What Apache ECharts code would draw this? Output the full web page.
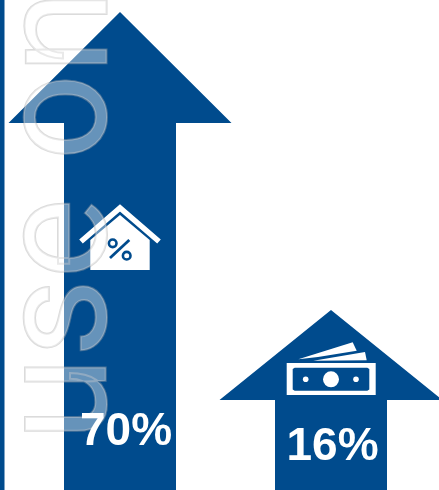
<!DOCTYPE html>
<html>
<head>
<meta charset="utf-8">
<style>html,body{margin:0;padding:0;background:#fff}#chart{width:439px;height:490px}</style>
<script src="https://cdn.jsdelivr.net/npm/echarts@6/dist/echarts.min.js"></script>
</head>
<body>
<div id="chart"></div>
<script>
// Two upward arrows whose tips sit at their share on a common vertical scale.
const categories = ['Home', 'Cash'];
const shares = [70, 16];
const watermarkText = 'use only';

const BLUE = '#004b8d';
const SHAFT_HALF = 56;
const HEAD_HALF = 111.5;
const HEAD_HEIGHT = { Home: 111, Cash: 90 };
const ICON_TOP = { Home: 204, Cash: 342 };
const LABEL_BASE = { Home: 455, Cash: 470 };
const LABEL_SHIFT = { Home: 6, Cash: 1.5 };

function poly(points, fill) {
  return { type: 'polygon', shape: { points }, style: { fill } };
}

// House with a roof band and a percent sign; origin is the roof apex.
function homeIcon(cx, y) {
  const ring = (dx, dy) => ({
    type: 'circle', shape: { cx: cx + dx, cy: y + dy, r: 3.8 },
    style: { fill: '#fff', stroke: BLUE, lineWidth: 2.6 }
  });
  return [
    poly([[cx - 29.7, y + 36], [cx, y + 11], [cx + 29.7, y + 36], [cx + 29.7, y + 66], [cx - 29.7, y + 66]], '#fff'),
    { type: 'polyline', shape: { points: [[cx - 39, y + 37.5], [cx, y + 4], [cx + 39, y + 37.5]] },
      style: { stroke: '#fff', lineWidth: 5.5, fill: null } },
    ring(-7.3, 39.3),
    ring(6.7, 51.7),
    { type: 'line', shape: { x1: cx + 9.3, y1: y + 36, x2: cx - 10, y2: y + 54 },
      style: { stroke: BLUE, lineWidth: 2.8 } }
  ];
}

// Banknote with two more notes fanned out behind it; origin is the top of the fan.
function cashIcon(cx, y) {
  const inner = [[-38.3, 27], [-36.3, 25.7], [36.3, 25.7], [38.3, 27], [38.3, 47.5], [36.3, 48.7], [-36.3, 48.7], [-38.3, 47.5]];
  const dot = (dx, r, fill) => ({
    type: 'circle', shape: { cx: cx + dx, cy: y + 37.3, r }, style: { fill }
  });
  return [
    poly([[-32.7, 17.3], [21.7, 0.3], [25.7, 8.7], [-13, 15]].map(p => [cx + p[0], y + p[1]]), '#fff'),
    poly([[-17.7, 18.7], [34, 10], [35.7, 18.3]].map(p => [cx + p[0], y + p[1]]), '#fff'),
    { type: 'rect', shape: { x: cx - 44.3, y: y + 21, width: 89, height: 32 }, style: { fill: '#fff' } },
    poly(inner.map(p => [cx + p[0], y + p[1]]), BLUE),
    dot(0, 8, '#fff'),
    dot(-25.3, 2.8, '#fff'),
    dot(25, 2.8, '#fff')
  ];
}

function renderArrow(params, api) {
  const name = categories[api.value(0)];
  const tip = api.coord([api.value(0), api.value(1)]);
  const bottom = api.coord([api.value(0), yMin])[1];
  const cx = tip[0];
  const neck = tip[1] + HEAD_HEIGHT[name];
  const arrow = poly([
    [cx, tip[1]],
    [cx + HEAD_HALF, neck],
    [cx + SHAFT_HALF, neck],
    [cx + SHAFT_HALF, bottom],
    [cx - SHAFT_HALF, bottom],
    [cx - SHAFT_HALF, neck],
    [cx - HEAD_HALF, neck]
  ], BLUE);
  const icon = name === 'Home' ? homeIcon(cx, ICON_TOP[name]) : cashIcon(cx, ICON_TOP[name]);
  return { type: 'group', children: [arrow].concat(icon) };
}

function renderLabel(params, api) {
  const name = categories[api.value(0)];
  const cx = api.coord([api.value(0), api.value(1)])[0];
  return {
    type: 'text',
    style: {
      x: cx + LABEL_SHIFT[name], y: LABEL_BASE[name],
      text: api.value(1) + '%',
      fill: '#fff',
      font: 'bold 46px "Liberation Sans", Arial, sans-serif',
      align: 'center', verticalAlign: 'bottom',
      lineHeight: 46
    }
  };
}

const yMin = -16.6;
const yMax = 72.17;
const points = categories.map((c, i) => [i, shares[i]]);

const chart = echarts.init(document.getElementById('chart'), null, { renderer: 'canvas' });
chart.setOption({
  animation: false,
  backgroundColor: '#fff',
  grid: { left: 14.5, top: 0, width: 422, height: 490 },
  xAxis: { type: 'category', data: categories, show: false },
  yAxis: { type: 'value', min: yMin, max: yMax, show: false },
  graphic: [
    { type: 'rect', z: 1, shape: { x: 0, y: 0, width: 4.5, height: 490 }, style: { fill: BLUE } },
    {
      type: 'text', z: 5, x: -8, y: 441, rotation: Math.PI / 2,
      style: {
        text: watermarkText,
        font: '400 152px Roboto, sans-serif',
        fill: 'rgba(255,255,255,0.4)',
        stroke: 'rgba(170,170,170,0.42)',
        lineWidth: 2,
        align: 'left', verticalAlign: 'top'
      }
    }
  ],
  series: [
    { type: 'custom', z: 2, coordinateSystem: 'cartesian2d', renderItem: renderArrow, data: points, silent: true },
    { type: 'custom', z: 10, coordinateSystem: 'cartesian2d', renderItem: renderLabel, data: points, silent: true }
  ]
});
</script>
</body>
</html>
